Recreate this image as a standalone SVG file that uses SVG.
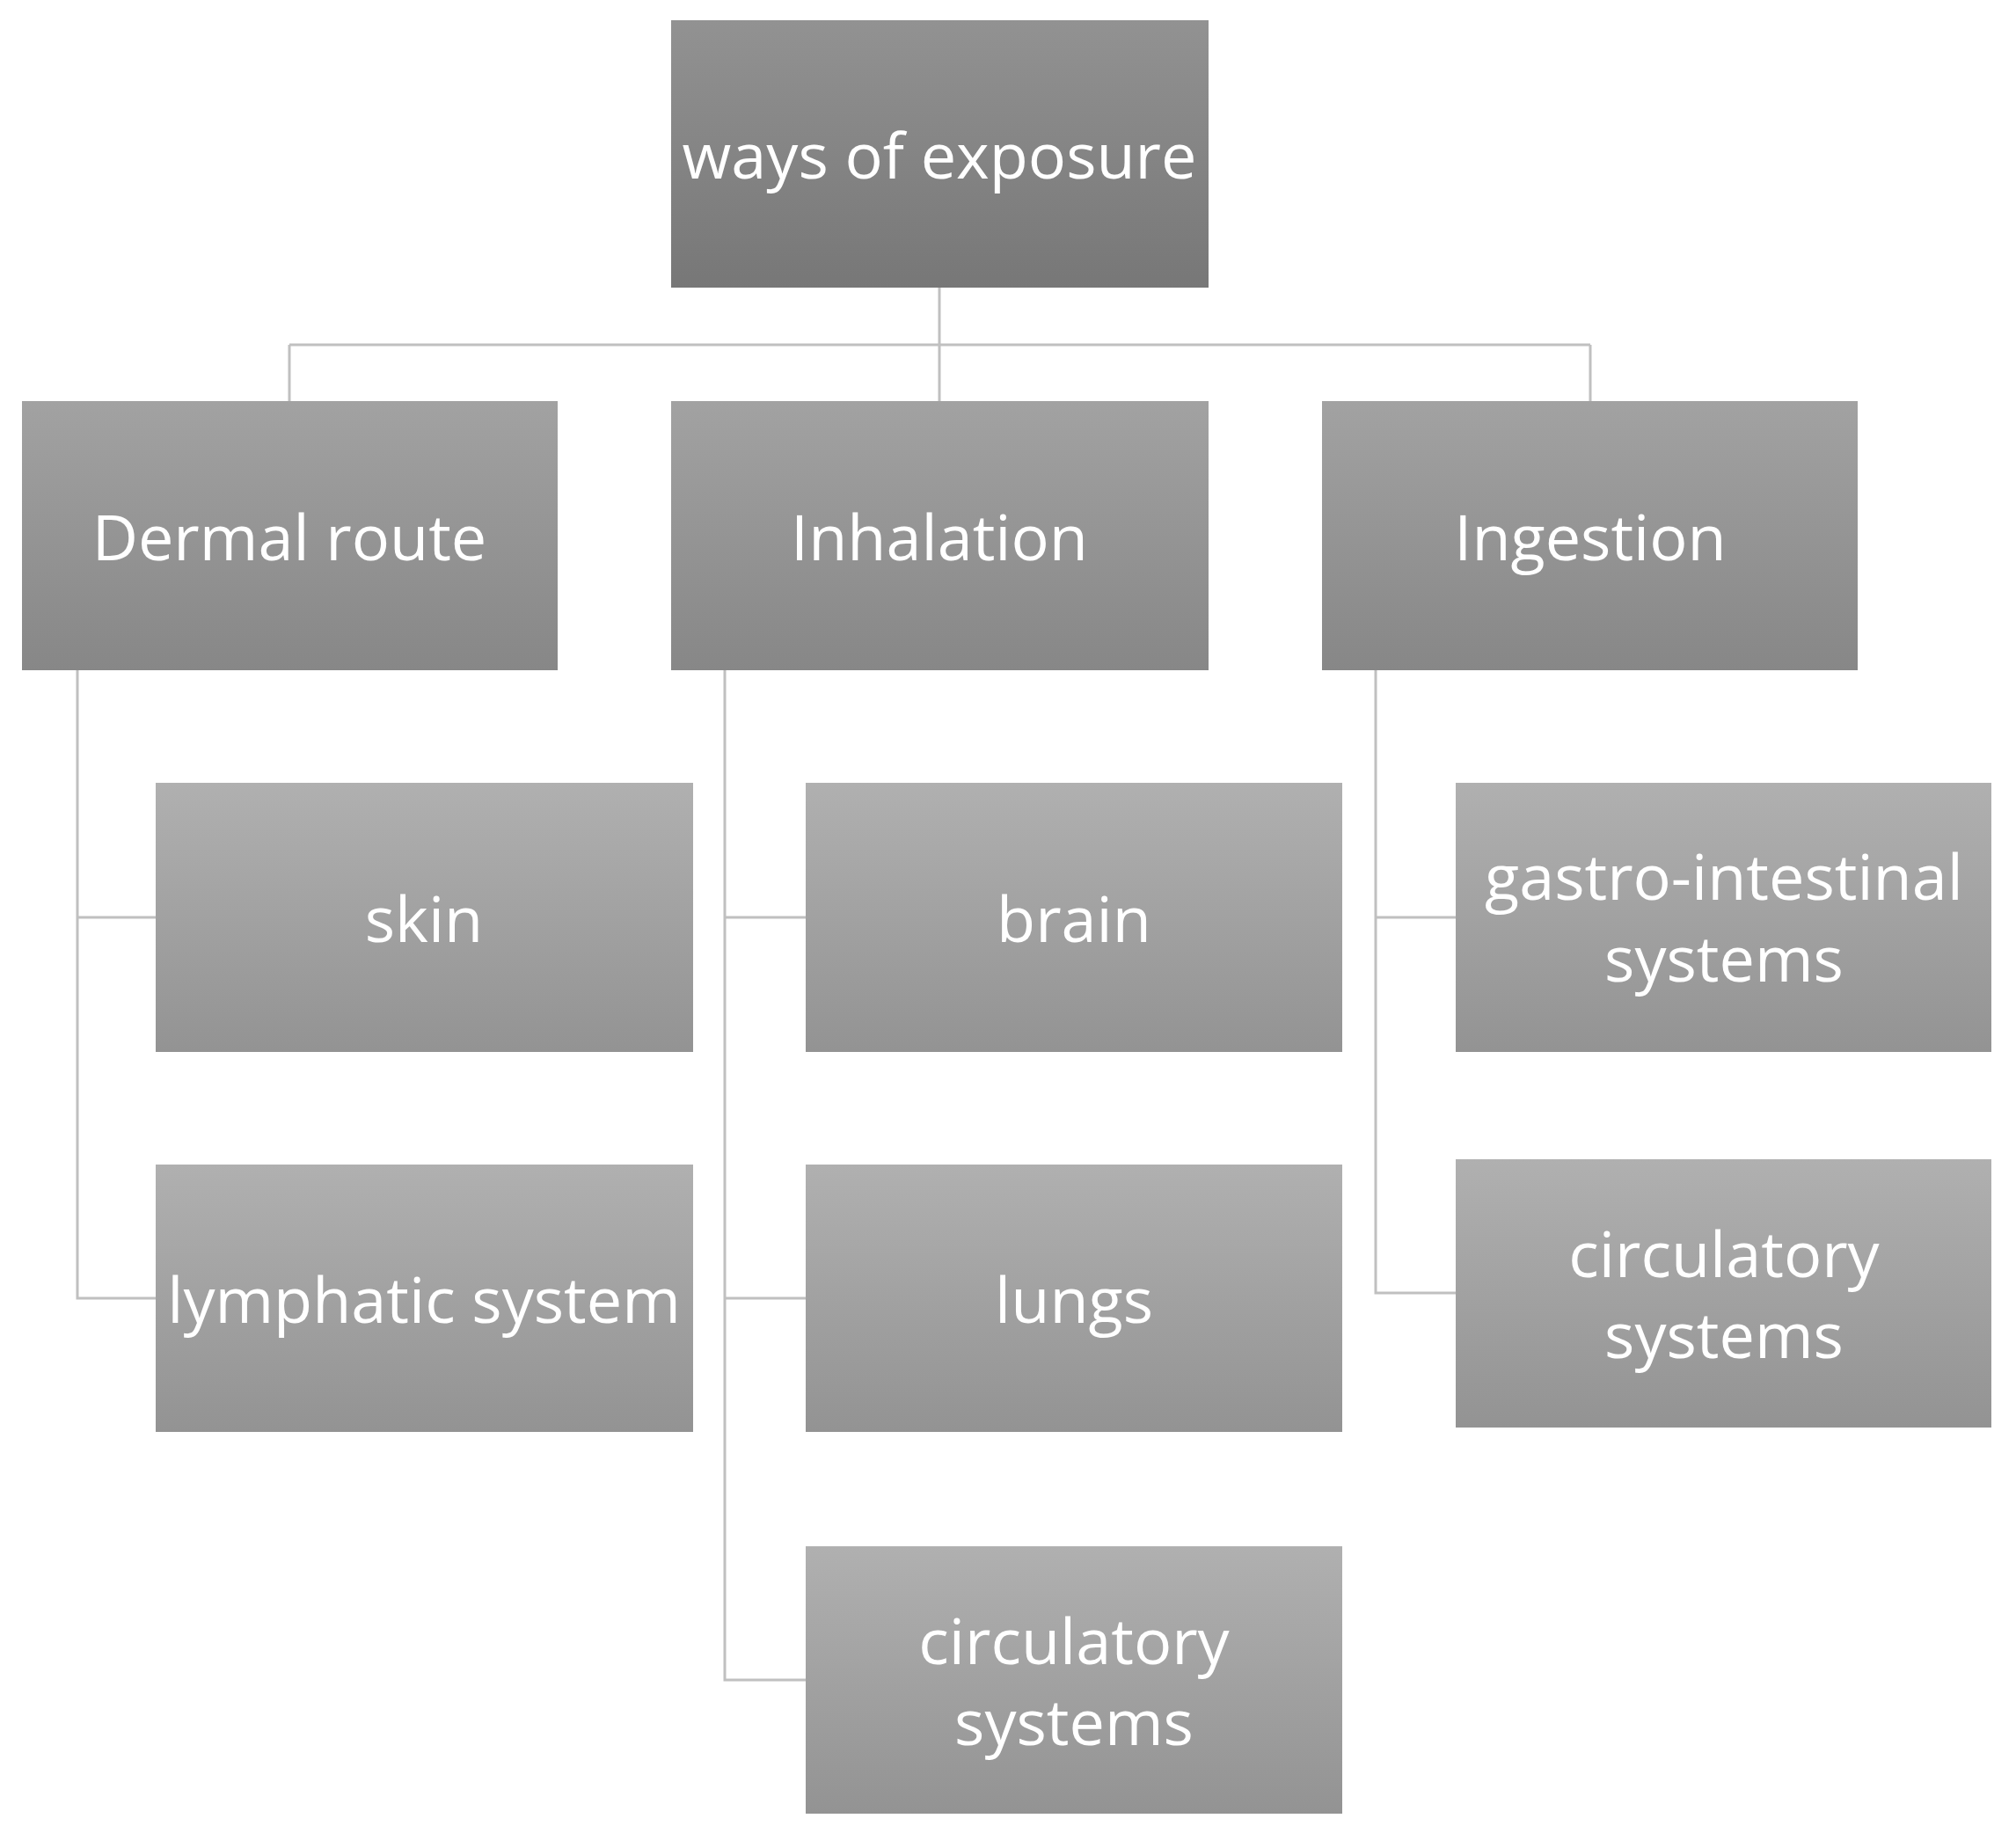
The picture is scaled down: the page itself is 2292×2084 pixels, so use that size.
<svg xmlns="http://www.w3.org/2000/svg" width="2292" height="2084" viewBox="0 0 2292 2084">
<defs>
<linearGradient id="g0" x1="0" y1="0" x2="0" y2="1"><stop offset="0" stop-color="#929292"/><stop offset="1" stop-color="#777777"/></linearGradient>
<linearGradient id="g1" x1="0" y1="0" x2="0" y2="1"><stop offset="0" stop-color="#a2a2a2"/><stop offset="1" stop-color="#878787"/></linearGradient>
<linearGradient id="g2" x1="0" y1="0" x2="0" y2="1"><stop offset="0" stop-color="#b0b0b0"/><stop offset="1" stop-color="#939393"/></linearGradient>
</defs>
<style>
text{font-family:"Open Sans","Liberation Sans",sans-serif;font-size:72px;fill:#fff;text-anchor:middle;dominant-baseline:central}
.c{fill:none;stroke:#c0c0c0;stroke-width:3}
</style>
<rect width="2292" height="2084" fill="#fff"/>
<g id="connectors" class="c">
<path d="M1068 327V392M329 392H1808M329 392V456M1068 392V456M1808 392V456"/>
<path d="M88 762V1476H177M88 1043H177"/>
<path d="M824 762V1910H916M824 1043H916M824 1476H916"/>
<path d="M1564 762V1470H1655M1564 1043H1655"/>
</g>
<g id="root"><rect x="763" y="23" width="611" height="304" fill="url(#g0)"/><text x="1068" y="175">ways of exposure</text></g>
<g id="dermal"><rect x="25" y="456" width="609" height="306" fill="url(#g1)"/><text x="329" y="609">Dermal route</text></g>
<g id="inhalation"><rect x="763" y="456" width="611" height="306" fill="url(#g1)"/><text x="1068" y="609">Inhalation</text></g>
<g id="ingestion"><rect x="1503" y="456" width="609" height="306" fill="url(#g1)"/><text x="1808" y="609">Ingestion</text></g>
<g id="skin"><rect x="177" y="890" width="611" height="306" fill="url(#g2)"/><text x="482" y="1043">skin</text></g>
<g id="lymphatic"><rect x="177" y="1324" width="611" height="304" fill="url(#g2)"/><text x="482" y="1476">lymphatic system</text></g>
<g id="brain"><rect x="916" y="890" width="610" height="306" fill="url(#g2)"/><text x="1221" y="1043">brain</text></g>
<g id="lungs"><rect x="916" y="1324" width="610" height="304" fill="url(#g2)"/><text x="1221" y="1476">lungs</text></g>
<g id="circ1"><rect x="916" y="1758" width="610" height="304" fill="url(#g2)"/><text x="1221" y="1864">circulatory</text><text x="1221" y="1956">systems</text></g>
<g id="gastro"><rect x="1655" y="890" width="609" height="306" fill="url(#g2)"/><text x="1960" y="995">gastro-intestinal</text><text x="1960" y="1088">systems</text></g>
<g id="circ2"><rect x="1655" y="1318" width="609" height="305" fill="url(#g2)"/><text x="1960" y="1424">circulatory</text><text x="1960" y="1516">systems</text></g>
</svg>
